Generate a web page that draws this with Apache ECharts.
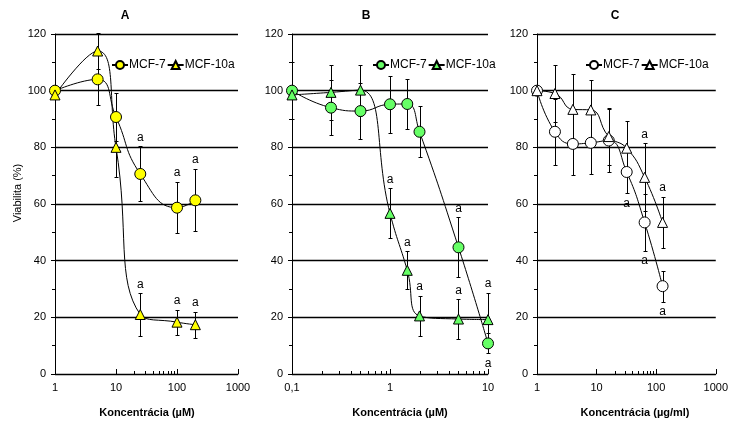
<!DOCTYPE html>
<html><head><meta charset="utf-8">
<script src="https://cdn.jsdelivr.net/npm/echarts@6/dist/echarts.min.js"></script>
<style>html,body{margin:0;padding:0;background:#fff}#c{width:731px;height:424px}</style>
</head><body><div id="c"></div>
<script>
// ---- Data ----
const concA = [1, 5, 10, 25, 100, 200];
const mcf7A = [100, 104, 90.7, 70.6, 58.7, 61.3];
const mcf7ErrA = [0, 9, 8.6, 9.7, 9, 11];
const mcf10aA = [98.5, 114, 80, 21, 18.3, 17.4];
const mcf10aErrA = [0, 6.5, 10.5, 7.5, 4.4, 4.6];
const mcf7SigA = ['', '', '', 'up', 'up', 'up'];
const mcf10aSigA = ['', '', '', 'up', 'up', 'up'];

const concB = [0.1, 0.25, 0.5, 1, 1.5, 2, 5, 10];
const mcf7B = [100, 94, 92.8, 95.2, 95.3, 85.5, 44.7, 10.8];
const mcf7ErrB = [10, 9.6, 10, 10, 8.7, 9, 10.6, 3.5];
const mcf10aB = [98.5, 99.4, 100.2, 56.7, 36.6, 20.5, 19.4, 19.2];
const mcf10aErrB = [0, 9.6, 9, 8.8, 6.7, 7, 7, 9.4];
const mcf7SigB = ['', '', '', '', '', '', 'up', 'down'];
const mcf10aSigB = ['', '', '', 'up', 'up', 'up', 'up', 'up'];

const concC = [1, 2, 4, 8, 16, 32, 64, 128];
const mcf7C = [100, 85.5, 81.2, 81.6, 82.4, 71.3, 53.5, 31];
const mcf7ErrC = [0, 11.7, 11, 11, 11, 7.5, 10, 5.5];
const mcf10aC = [100, 99, 93.4, 93.2, 83.8, 79.7, 69.4, 53.5];
const mcf10aErrC = [0, 10, 12.5, 10.5, 10, 9.7, 12, 9];
const mcf7SigC = ['', '', '', '', '', 'down', 'down', 'down'];
const mcf10aSigC = ['', '', '', '', '', '', 'up', 'up'];

const panelTitles = ['A', 'B', 'C'];
const xNames = ['Koncentrácia (µM)', 'Koncentrácia (µM)', 'Koncentrácia (µg/ml)'];
const yName = 'Viabilita (%)';
const seriesNames = ['MCF-7', 'MCF-10a'];
const xMinorA = [20, 30, 40, 50, 60, 70, 80, 90];
const xMinorB = [0.2, 0.3, 0.4, 0.5, 0.6, 0.7, 0.8, 0.9, 2, 3, 4, 5, 6, 7, 8, 9];
const xMinorC = [20, 30, 40, 50, 60, 70, 80, 90];
const sigLabel = 'a';

// ---- Layout / style ----
const FONT = '"Liberation Sans", Arial, sans-serif';
const panels = [
  { key: 'A', x: concA, s1: mcf7A, e1: mcf7ErrA, g1: mcf7SigA, s2: mcf10aA, e2: mcf10aErrA, g2: mcf10aSigA,
    xmin: 1, xmax: 1000, minor: xMinorA, fill: '#FFFF00', grid: { left: 55, width: 183 }, legendLeft: 106, title: 125, xname: 147 },
  { key: 'B', x: concB, s1: mcf7B, e1: mcf7ErrB, g1: mcf7SigB, s2: mcf10aB, e2: mcf10aErrB, g2: mcf10aSigB,
    xmin: 0.1, xmax: 10, minor: xMinorB, fill: '#66FF66', grid: { left: 292, width: 196 }, legendLeft: 367, title: 366, xname: 400 },
  { key: 'C', x: concC, s1: mcf7C, e1: mcf7ErrC, g1: mcf7SigC, s2: mcf10aC, e2: mcf10aErrC, g2: mcf10aSigC,
    xmin: 1, xmax: 1000, minor: xMinorC, fill: '#FFFFFF', grid: { left: 537, width: 185 }, legendLeft: 580, title: 615, xname: 635 }
];
const GRID_TOP = 34, GRID_H = 340;

const grids = [], xAxes = [], yAxes = [], series = [], legends = [], graphics = [];

function crisp(v) { return Math.round(v) + 0.5; }

panels.forEach((p, i) => {
  grids.push({ left: p.grid.left, width: p.grid.width, top: GRID_TOP, height: GRID_H, containLabel: false });
  xAxes.push({
    type: 'log', logBase: 10, gridIndex: i, min: p.xmin, max: p.xmax,
    axisLine: { show: true, lineStyle: { color: '#000', width: 1 } },
    axisTick: { show: true, inside: true, length: 5, lineStyle: { color: '#000' } },
    splitLine: { show: false },
    axisLabel: { color: '#000', fontSize: 11, fontFamily: FONT, margin: 8,
      formatter: v => String(+v.toPrecision(6)).replace('.', ',') }
  });
  yAxes.push({
    type: 'value', gridIndex: i, min: 0, max: 120, interval: 20,
    axisLine: { show: true, lineStyle: { color: '#000', width: 1 } },
    axisTick: { show: true, inside: false, length: 4, lineStyle: { color: '#000' } },
    minorTick: { show: true, splitNumber: 2, length: 3, lineStyle: { color: '#000' } },
    splitLine: { show: true, lineStyle: { color: '#000', width: 1.3 } },
    axisLabel: { color: '#000', fontSize: 11, fontFamily: FONT, margin: 9 }
  });
  const defs = [
    { name: seriesNames[0], y: p.s1, e: p.e1, g: p.g1, symbol: 'circle', size: 11 },
    { name: seriesNames[1], y: p.s2, e: p.e2, g: p.g2, symbol: 'triangle', size: 10 }
  ];
  defs.forEach(d => {
    series.push({
      type: 'custom', xAxisIndex: i, yAxisIndex: i, z: 3, silent: true,
      encode: { x: 0, y: 1 },
      data: p.x.map((xv, k) => [xv, d.y[k], d.e[k]]).filter(r => r[2] > 0),
      renderItem: (params, api) => {
        const x = api.value(0), y = api.value(1), e = api.value(2);
        const t = api.coord([x, y + e]), b = api.coord([x, y - e]);
        const cx = crisp(t[0]), ty = crisp(t[1]), by = crisp(b[1]), w = 2;
        const st = { stroke: '#000', lineWidth: 1 };
        return { type: 'group', children: [
          { type: 'line', shape: { x1: cx, y1: ty, x2: cx, y2: by }, style: st },
          { type: 'line', shape: { x1: cx - w, y1: ty, x2: cx + w, y2: ty }, style: st },
          { type: 'line', shape: { x1: cx - w, y1: by, x2: cx + w, y2: by }, style: st }
        ]};
      }
    });
    series.push({
      type: 'line', name: p.key + ':' + d.name, xAxisIndex: i, yAxisIndex: i, z: 4,
      data: p.x.map((xv, k) => [xv, d.y[k]]),
      smooth: true, symbol: d.symbol, symbolSize: d.size, showAllSymbol: true,
      lineStyle: { color: '#000', width: 1 },
      itemStyle: { color: p.fill, borderColor: '#000', borderWidth: 1 },
      emphasis: { disabled: true }, animation: false
    });
    series.push({
      type: 'custom', xAxisIndex: i, yAxisIndex: i, z: 5, silent: true,
      encode: { x: 0, y: 1 },
      data: p.x.map((xv, k) => [xv, d.g[k] === 'up' ? d.y[k] + d.e[k] : d.y[k] - d.e[k], d.g[k] === 'up' ? 1 : -1, d.g[k]])
        .filter(r => r[3]),
      renderItem: (params, api) => {
        const c = api.coord([api.value(0), api.value(1)]);
        const dir = api.value(2);
        return { type: 'text', x: c[0], y: c[1] - dir * (dir > 0 ? 9 : 10),
          style: { text: sigLabel, fill: '#000', font: '12px ' + FONT, align: 'center', verticalAlign: 'middle' } };
      }
    });
  });
  series.push({
    type: 'custom', xAxisIndex: i, yAxisIndex: i, z: 2, silent: true,
    encode: { x: 0, y: 1 },
    data: p.minor.map(v => [v, 0]),
    renderItem: (params, api) => {
      const c = api.coord([api.value(0), 0]);
      const x = crisp(c[0]);
      return { type: 'line', shape: { x1: x, y1: c[1], x2: x, y2: c[1] - 3 }, style: { stroke: '#000', lineWidth: 1 } };
    }
  });
  legends.push({
    show: true, left: p.legendLeft, top: 54, orient: 'horizontal',
    data: seriesNames.map(n => p.key + ':' + n),
    formatter: n => n.split(':')[1],
    itemWidth: 16, itemHeight: 10, itemGap: 1, selectedMode: false,
    textStyle: { color: '#000', fontSize: 12, fontFamily: FONT, padding: [0, 0, 0, -4] }
  });
  graphics.push({ type: 'text', x: p.title, y: 16, style: { text: panelTitles[i], font: 'bold 12px ' + FONT, fill: '#000', align: 'center', verticalAlign: 'middle' } });
  graphics.push({ type: 'text', x: p.xname, y: 413, style: { text: xNames[i], font: 'bold 11px ' + FONT, fill: '#000', align: 'center', verticalAlign: 'middle' } });
});
graphics.push({ type: 'text', x: 18, y: 193, rotation: Math.PI / 2,
  style: { text: yName, font: '11px ' + FONT, fill: '#000', align: 'center', verticalAlign: 'middle' } });

const chart = echarts.init(document.getElementById('c'), null, { renderer: 'canvas' });
chart.setOption({
  animation: false,
  textStyle: { fontFamily: FONT },
  grid: grids, xAxis: xAxes, yAxis: yAxes, series: series, legend: legends, graphic: graphics
});
</script></body></html>
